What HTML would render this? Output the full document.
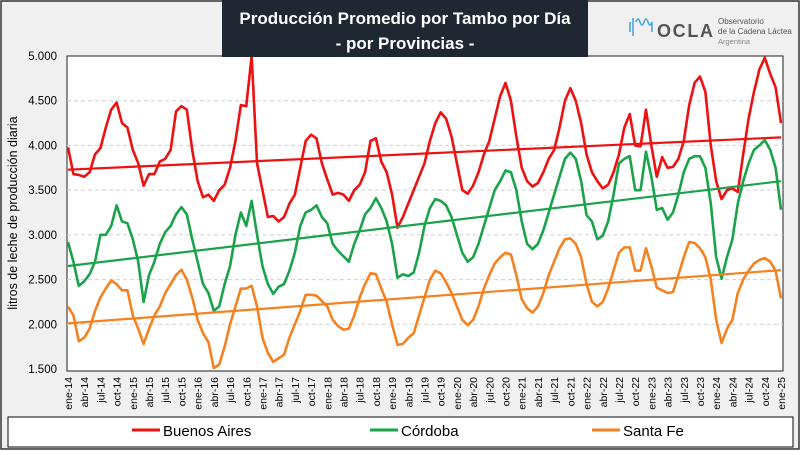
<!DOCTYPE html>
<html><head><meta charset="utf-8">
<style>
body{margin:0;width:800px;height:450px;overflow:hidden;background:#fff;font-family:"Liberation Sans",sans-serif;}
svg text{font-family:"Liberation Sans",sans-serif;}
</style></head>
<body>
<svg id="chart" width="800" height="450" viewBox="0 0 800 450" xmlns="http://www.w3.org/2000/svg">
<rect x="1" y="1" width="798" height="448" fill="#f0f0f0" stroke="#333" stroke-width="1.5"/>
<rect x="67" y="56" width="716" height="315" fill="#fff" stroke="#444" stroke-width="1.2"/>
<g id="grid"></g>
<g id="series"></g>
<g id="yticks"></g>
<g id="xticks"></g>
<rect x="222" y="0" width="366" height="57" fill="#1f2732"/>
<text x="405" y="24" fill="#fff" font-size="17" font-weight="bold" text-anchor="middle">Producción Promedio por Tambo por Día</text>
<text x="405" y="49" fill="#fff" font-size="17" font-weight="bold" text-anchor="middle">- por Provincias -</text>
<g>
<path d="M630 22 v10 M633 18 v18 M636 22 q2 -6 4 0 q2 6 4 0 q2 -6 4 0 q2 6 4 0 v10" stroke="#4aa8d8" stroke-width="1.6" fill="none"/>
<text x="657" y="37" font-size="18" font-weight="bold" fill="#555" textLength="56">OCLA</text>
<text x="718" y="24" font-size="8" fill="#555">Observatorio</text>
<text x="718" y="34" font-size="8" fill="#555">de la Cadena Láctea</text>
<text x="718" y="44" font-size="7.5" fill="#888">Argentina</text>
</g>
<text transform="translate(17,213) rotate(-90)" font-size="12.5" text-anchor="middle" fill="#000">litros de leche de producción diaria</text>
<rect x="8" y="417" width="785" height="30" fill="#fff" stroke="#333" stroke-width="1.2"/>
<g><line x1="132" y1="430" x2="160" y2="430" stroke="#ee1111" stroke-width="3"/><text x="163" y="436" font-size="15">Buenos Aires</text></g>
<g><line x1="370" y1="430" x2="398" y2="430" stroke="#1aa34a" stroke-width="3"/><text x="401" y="436" font-size="15">Córdoba</text></g>
<g><line x1="592" y1="430" x2="620" y2="430" stroke="#f58220" stroke-width="3"/><text x="623" y="436" font-size="15">Santa Fe</text></g>
</svg>
<script>
const buenosAires=[3980,3680,3670,3650,3700,3900,3970,4200,4400,4480,4250,4200,
3950,3800,3550,3680,3680,3820,3850,3950,4380,4440,4400,3950,
3600,3420,3450,3380,3500,3560,3750,4050,4450,4440,5000,3800,
3500,3200,3210,3150,3200,3350,3450,3750,4050,4120,4080,3800,
3620,3450,3470,3450,3380,3500,3560,3700,4050,4080,3820,3700,
3450,3080,3200,3350,3500,3650,3800,4050,4250,4370,4300,4100,
3800,3500,3460,3550,3700,3900,4050,4300,4550,4700,4500,4100,
3750,3600,3540,3580,3700,3850,3950,4200,4500,4640,4500,4250,
3900,3700,3600,3520,3560,3700,3900,4200,4350,4000,3990,4400,
4000,3650,3870,3750,3760,3850,4050,4450,4700,4770,4600,4000,
3600,3400,3500,3520,3480,3900,4300,4600,4850,4980,4800,4650,4250];
const cordoba=[2920,2700,2430,2480,2560,2700,3000,3000,3100,3330,3150,3130,
2950,2700,2250,2550,2700,2900,3030,3100,3230,3310,3230,2950,
2700,2450,2350,2150,2200,2450,2650,3000,3250,3100,3380,3000,
2650,2450,2340,2420,2450,2600,2800,3100,3250,3280,3330,3200,
3130,2900,2820,2760,2700,2900,3050,3230,3300,3410,3300,3150,
2900,2520,2560,2540,2580,2800,3100,3300,3400,3380,3330,3200,
3000,2800,2700,2750,2900,3100,3300,3500,3600,3720,3700,3500,
3150,2900,2840,2900,3050,3250,3450,3650,3850,3920,3850,3600,
3220,3150,2950,2990,3150,3450,3800,3850,3880,3500,3500,3930,
3650,3280,3300,3170,3250,3450,3700,3850,3880,3880,3750,3350,
2750,2510,2750,2950,3350,3600,3800,3950,4000,4060,3950,3750,3280];
const santaFe=[2200,2100,1810,1850,1950,2150,2300,2400,2490,2450,2380,2380,
2100,1950,1780,1950,2100,2200,2350,2450,2550,2610,2500,2300,
2050,1900,1800,1510,1550,1750,2000,2200,2400,2400,2430,2200,
1850,1680,1580,1620,1660,1850,2000,2150,2330,2330,2320,2260,
2200,2050,1980,1940,1950,2100,2300,2450,2570,2560,2400,2250,
2000,1770,1780,1850,1900,2100,2300,2500,2600,2570,2470,2350,
2200,2050,1990,2050,2200,2400,2550,2680,2750,2800,2780,2550,
2280,2180,2130,2200,2350,2550,2700,2850,2950,2960,2900,2750,
2450,2250,2200,2250,2400,2600,2800,2860,2860,2600,2600,2850,
2650,2410,2380,2350,2360,2550,2750,2920,2910,2850,2750,2500,
2050,1790,1950,2050,2350,2500,2600,2680,2720,2740,2700,2600,2290];
const yTicks=[1500,2000,2500,3000,3500,4000,4500,5000];
const monthNames=["ene","abr","jul","oct"];
const startYear=14;

const NS="http://www.w3.org/2000/svg";
const x0=68,x1=781,yTop=56,yBot=369,vMin=1500,vMax=5000;
const n=buenosAires.length;
function xs(i){return x0+(x1-x0)*i/(n-1);}
function ys(v){return yBot-(v-vMin)/(vMax-vMin)*(yBot-yTop);}
const grid=document.getElementById('grid'),yt=document.getElementById('yticks'),xt=document.getElementById('xticks'),sg=document.getElementById('series');
yTicks.forEach(v=>{
  if(v>vMin&&v<vMax){const l=document.createElementNS(NS,'line');
  
  
  l.setAttribute('x1',67);l.setAttribute('x2',783);l.setAttribute('y1',ys(v));l.setAttribute('y2',ys(v));
  l.setAttribute('stroke','#d0d0d0');l.setAttribute('stroke-dasharray','4,3');grid.appendChild(l);}
  const t=document.createElementNS(NS,'text');
  
  
  t.setAttribute('x',57);t.setAttribute('y',ys(v)+4);t.setAttribute('text-anchor','end');t.setAttribute('font-size','11.5');
  t.textContent=(v/1000).toFixed(3);yt.appendChild(t);
});
for(let i=0;i<n;i+=3){
  const t=document.createElementNS(NS,'text');
  
  
  const x=xs(i)+4;
  t.setAttribute('transform','translate('+x+',377) rotate(-90)');
  t.setAttribute('text-anchor','end');t.setAttribute('font-size','10.5');
  t.textContent=monthNames[(i/3)%4]+'-'+(startYear+Math.floor(i/12));
  xt.appendChild(t);
}
function trend(arr){let sx=0,sy=0,sxx=0,sxy=0;arr.forEach((v,i)=>{sx+=i;sy+=v;sxx+=i*i;sxy+=i*v;});
  const b=(n*sxy-sx*sy)/(n*sxx-sx*sx),a=(sy-b*sx)/n;return[a,a+b*(n-1)];}
function draw(arr,color,name){
  const p=document.createElementNS(NS,'polyline');
  
  
  p.setAttribute('points',arr.map((v,i)=>xs(i)+','+ys(v)).join(' '));
  p.setAttribute('fill','none');p.setAttribute('stroke',color);p.setAttribute('stroke-width','2.6');p.setAttribute('stroke-linejoin','round');
  sg.appendChild(p);
  const tr=trend(arr);const l=document.createElementNS(NS,'line');
  
  
  l.setAttribute('x1',xs(0));l.setAttribute('x2',xs(n-1));l.setAttribute('y1',ys(tr[0]));l.setAttribute('y2',ys(tr[1]));
  l.setAttribute('stroke',color);l.setAttribute('stroke-width','2.2');sg.appendChild(l);
}
draw(buenosAires,'#ee1111','buenos-aires');
draw(cordoba,'#1aa34a','cordoba');
draw(santaFe,'#f58220','santa-fe');
</script>
</body></html>
